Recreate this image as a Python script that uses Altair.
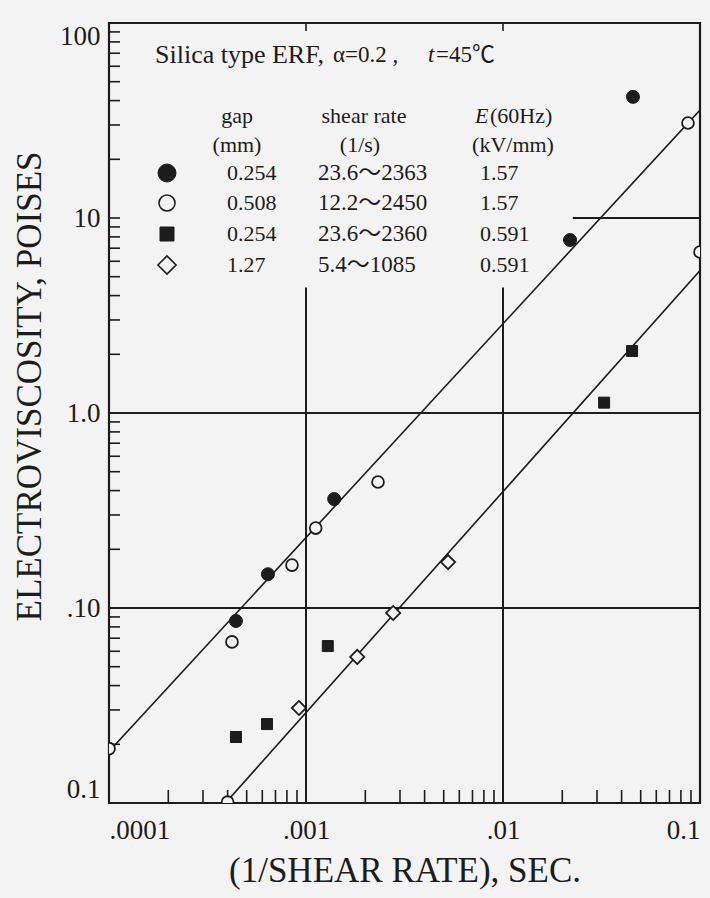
import altair as alt
import pandas as pd

INK = "#1c1c1c"
BG = "#f3f3f3"
TYPE = "Liberation Serif"
SERIF = "Liberation Serif, Noto Sans CJK JP"

# ---------------- data ----------------
# gap 0.254 mm, E = 1.57 kV/mm  (filled circles)
s1_x = [0.000441, 0.000641, 0.00139, 0.0219, 0.0457]
s1_y = [0.0858, 0.149, 0.362, 7.71, 41.8]
# gap 0.508 mm, E = 1.57 kV/mm  (open circles, incl. the ones cut by the frame)
s2_x = [0.0001, 0.000400, 0.000421, 0.000849, 0.00112, 0.00232, 0.0869, 0.1]
s2_y = [0.019, 0.0101, 0.067, 0.166, 0.257, 0.443, 30.7, 6.69]
# gap 0.254 mm, E = 0.591 kV/mm (filled squares)
s3_x = [0.000441, 0.000634, 0.00129, 0.0326, 0.0452]
s3_y = [0.0218, 0.0254, 0.0638, 1.13, 2.08]
# gap 1.27 mm, E = 0.591 kV/mm (open diamonds)
s4_x = [0.000921, 0.00182, 0.00277, 0.00526]
s4_y = [0.0307, 0.0561, 0.0943, 0.172]

# fitted straight lines
fit1_x = [0.0001, 0.1]
fit1_y = [0.0184, 35.8]
fit2_x = [0.00039, 0.1]
fit2_y = [0.01, 5.38]

# axes
x_ticks = [0.0001, 0.001, 0.01, 0.1]
x_tick_labels = [".0001", ".001", ".01", "0.1"]
y_ticks = [0.01, 0.1, 1, 10, 100]
y_tick_labels = ["0.1", ".10", "1.0", "10", "100"]
x_minor = [0.0002, 0.0003, 0.0004, 0.0005, 0.0006, 0.0007, 0.0008, 0.0009,
           0.002, 0.003, 0.004, 0.005, 0.006, 0.007, 0.008, 0.009,
           0.02, 0.03, 0.04, 0.05, 0.06, 0.07, 0.08, 0.09]
y_minor = [0.02, 0.03, 0.04, 0.05, 0.06, 0.07, 0.08, 0.09,
           0.2, 0.3, 0.4, 0.5, 0.6, 0.7, 0.8, 0.9,
           2, 3, 4, 5, 6, 7, 8, 9, 10,
           20, 30, 40, 50, 60, 70, 80, 90]
x_top_ticks = [0.001, 0.01]
hgrid_full = [0.1, 1]
hgrid_part_y = [10]
hgrid_part_x = [0.0226, 0.1]
vgrid_x = [0.001, 0.01]
vgrid_y = [0.01, 4.4]

# legend table
legend_gap = ["0.254", "0.508", "0.254", "1.27"]
legend_rate = ["23.6～2363", "12.2～2450", "23.6～2360", "5.4～1085"]
legend_E = ["1.57", "1.57", "0.591", "0.591"]

W, H = 591, 780

xs = alt.Scale(type="log", domain=[0.0001, 0.1], nice=False)
ys = alt.Scale(type="log", domain=[0.01, 100], nice=False)

xaxis = alt.Axis(
    values=x_ticks,
    labelExpr=f"{x_tick_labels}[indexof({x_ticks}, datum.value)]",
    labelFont=TYPE, labelFontSize=27, labelColor=INK, labelPadding=14,
    labelFlush=True, labelOverlap=False, ticks=False, tickSize=0,
    domain=False, grid=False,
    title="(1/SHEAR RATE), SEC.", titleFont=TYPE, titleFontSize=35,
    titleFontWeight="normal", titleColor=INK, titleX=W / 2, titleY=67,
    titleAlign="center", titleBaseline="middle",
)
yaxis = alt.Axis(
    values=y_ticks,
    labelExpr=f"{y_tick_labels}[indexof({y_ticks}, datum.value)]",
    labelFont=TYPE, labelFontSize=27, labelColor=INK, labelPadding=9,
    labelFlush=True, labelOverlap=False, ticks=False, tickSize=0,
    domain=False, grid=False,
    title="ELECTROVISCOSITY, POISES", titleFont=TYPE, titleFontSize=35,
    titleFontWeight="normal", titleColor=INK, titleX=-80, titleY=363,
    titleAngle=270, titleAlign="center", titleBaseline="middle",
)


def X(f):
    return alt.X(f, type="quantitative", scale=xs, axis=xaxis)


def Y(f):
    return alt.Y(f, type="quantitative", scale=ys, axis=yaxis)


layers = []

# grid lines
layers.append(alt.Chart(pd.DataFrame({"y": hgrid_full})).mark_rule(
    color=INK, strokeWidth=2).encode(y=Y("y")))
layers.append(alt.Chart(pd.DataFrame({"y": hgrid_part_y, "x": [hgrid_part_x[0]], "x2": [hgrid_part_x[1]]}))
              .mark_rule(color=INK, strokeWidth=2).encode(y=Y("y"), x=X("x"), x2="x2"))
layers.append(alt.Chart(pd.DataFrame({"x": vgrid_x, "y": [vgrid_y[0]] * 2, "y2": [vgrid_y[1]] * 2}))
              .mark_rule(color=INK, strokeWidth=2).encode(x=X("x"), y=Y("y"), y2="y2"))
# minor ticks
layers.append(alt.Chart(pd.DataFrame({"x": x_minor})).mark_rule(color=INK, strokeWidth=1.6)
              .encode(x=X("x"), y=alt.value(H), y2=alt.value(H - 13)))
layers.append(alt.Chart(pd.DataFrame({"y": y_minor})).mark_rule(color=INK, strokeWidth=1.6)
              .encode(y=Y("y"), x=alt.value(0), x2=alt.value(11)))
layers.append(alt.Chart(pd.DataFrame({"x": x_top_ticks})).mark_rule(color=INK, strokeWidth=1.6)
              .encode(x=X("x"), y=alt.value(0), y2=alt.value(8)))

# fitted lines
for fx, fy in [(fit1_x, fit1_y), (fit2_x, fit2_y)]:
    layers.append(alt.Chart(pd.DataFrame({"x": fx, "y": fy})).mark_line(
        color=INK, strokeWidth=1.6, clip=True).encode(x=X("x"), y=Y("y")))

# data points
styles = [
    dict(shape="circle", size=169, fill=INK, stroke=INK, strokeWidth=1),
    dict(shape="circle", size=140, fill=BG, stroke=INK, strokeWidth=1.8),
    dict(shape="square", size=121, fill=INK, stroke=INK, strokeWidth=1),
    dict(shape="diamond", size=200, fill=BG, stroke=INK, strokeWidth=1.8),
]
series = [(s1_x, s1_y), (s2_x, s2_y), (s3_x, s3_y), (s4_x, s4_y)]
for (sx, sy), st in zip(series, styles):
    layers.append(alt.Chart(pd.DataFrame({"x": sx, "y": sy})).mark_point(
        filled=True, opacity=1, clip=True, **st).encode(x=X("x"), y=Y("y")))


# legend block (pixel layout inside the plot area)
def txt(s, px, py, align="left", italic=False, size=22):
    return alt.Chart(pd.DataFrame({"t": [s]})).mark_text(
        align=align, baseline="middle", font=SERIF, fontSize=size, color=INK,
        fontStyle="italic" if italic else "normal",
    ).encode(x=alt.value(px), y=alt.value(py), text="t:N")


layers.append(txt("Silica type ERF,", 46, 32, size=26))
layers.append(txt("α=0.2 ,", 224, 32, size=23))
layers.append(txt("t", 319, 32, italic=True, size=23))
layers.append(txt("=45℃", 327, 32, size=23))
layers.append(txt("gap", 128, 93, align="center"))
layers.append(txt("(mm)", 128, 122, align="center"))
layers.append(txt("shear rate", 255, 93, align="center"))
layers.append(txt("(1/s)", 251, 122, align="center"))
layers.append(txt("E", 366, 93, italic=True))
layers.append(txt("(60Hz)", 381, 93))
layers.append(txt("(kV/mm)", 404, 122, align="center"))

row_y = [150, 180, 211, 242]
leg_styles = [
    dict(shape="circle", size=324, fill=INK, stroke=INK, strokeWidth=1),
    dict(shape="circle", size=256, fill=BG, stroke=INK, strokeWidth=1.6),
    dict(shape="square", size=196, fill=INK, stroke=INK, strokeWidth=1),
    dict(shape="diamond", size=330, fill=BG, stroke=INK, strokeWidth=1.6),
]
for i in range(4):
    layers.append(alt.Chart(pd.DataFrame({"k": [i]})).mark_point(
        filled=True, opacity=1, **leg_styles[i]).encode(
        x=alt.value(58), y=alt.value(row_y[i])))
    layers.append(txt(legend_gap[i], 118, row_y[i]))
    layers.append(txt(legend_rate[i], 209, row_y[i], size=23))
    layers.append(txt(legend_E[i], 371, row_y[i]))

chart = alt.layer(*layers).properties(
    width=W, height=H,
    padding={"left": 109, "top": 23, "right": 10, "bottom": 95},
    autosize=alt.AutoSizeParams(type="none"),
    background=BG,
).configure_view(stroke=INK, strokeWidth=2.2)

chart.save("out.html", embed_options={"renderer": "svg", "actions": False})
